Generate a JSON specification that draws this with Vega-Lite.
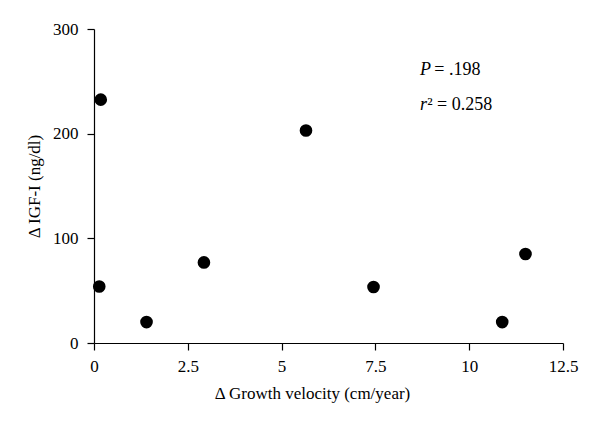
{
  "$schema": "https://vega.github.io/schema/vega-lite/v6.json",
  "width": 469,
  "height": 314,
  "autosize": {"type": "none"},
  "padding": {"left": 94, "top": 29, "right": 37, "bottom": 84},
  "background": "white",
  "config": {
    "view": {"stroke": null},
    "font": "Liberation Serif",
    "axis": {
      "grid": false,
      "domainColor": "black",
      "tickColor": "black",
      "domainWidth": 1.2,
      "tickWidth": 1.2,
      "tickSize": 7,
      "labelFont": "Liberation Serif",
      "titleFont": "Liberation Serif",
      "labelFontSize": 17,
      "titleFontSize": 17,
      "labelColor": "black",
      "titleColor": "black",
      "titleFontWeight": "normal"
    }
  },
  "datasets": {
    "points": [
      {"gv": 0.18, "igf": 232.5},
      {"gv": 0.14, "igf": 54},
      {"gv": 1.40, "igf": 20},
      {"gv": 2.93, "igf": 77},
      {"gv": 5.65, "igf": 203},
      {"gv": 7.45, "igf": 53.5},
      {"gv": 10.88, "igf": 20},
      {"gv": 11.50, "igf": 85}
    ],
    "italic": [
      {"gv": 8.69, "igf": 256, "t": "P"},
      {"gv": 8.69, "igf": 223, "t": "r"}
    ],
    "plain": [
      {"gv": 9.07, "igf": 256, "t": "= .198"},
      {"gv": 8.88, "igf": 223, "t": "² = 0.258"}
    ]
  },
  "layer": [
    {
      "data": {"name": "points"},
      "mark": {"type": "circle", "size": 160, "color": "black", "opacity": 1},
      "encoding": {
        "x": {
          "field": "gv", "type": "quantitative",
          "scale": {"domain": [0, 12.5], "nice": false, "zero": false},
          "axis": {"values": [0, 2.5, 5, 7.5, 10, 12.5], "format": ".3~g", "title": "Δ Growth velocity (cm/year)", "labelPadding": 8, "titlePadding": 11, "titleX": 218, "labelFlush": false, "labelOverlap": false}
        },
        "y": {
          "field": "igf", "type": "quantitative",
          "scale": {"domain": [0, 300], "nice": false},
          "axis": {"values": [0, 100, 200, 300], "format": "d", "title": "Δ IGF-I (ng/dl)", "labelPadding": 9, "titlePadding": 9, "labelFlush": false}
        }
      }
    },
    {
      "data": {"name": "italic"},
      "mark": {"type": "text", "align": "left", "baseline": "alphabetic", "fontSize": 18, "fontStyle": "italic", "font": "Liberation Serif", "color": "black"},
      "encoding": {
        "x": {"field": "gv", "type": "quantitative"},
        "y": {"field": "igf", "type": "quantitative"},
        "text": {"field": "t"}
      }
    },
    {
      "data": {"name": "plain"},
      "mark": {"type": "text", "align": "left", "baseline": "alphabetic", "fontSize": 18, "font": "Liberation Serif", "color": "black"},
      "encoding": {
        "x": {"field": "gv", "type": "quantitative"},
        "y": {"field": "igf", "type": "quantitative"},
        "text": {"field": "t"}
      }
    }
  ]
}
